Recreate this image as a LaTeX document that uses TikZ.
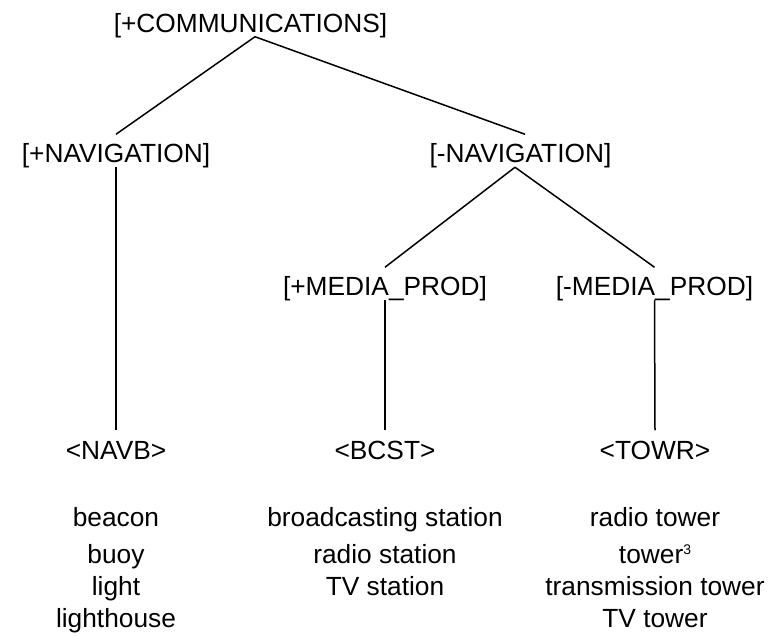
\documentclass[tikz,border=0pt]{standalone}
\usepackage{fontspec}
\setmainfont{Liberation Sans}
\usepackage{tikz}
\usetikzlibrary{positioning}

\begin{document}
\begin{tikzpicture}[x=1pt,y=-1pt,line width=1.5pt,
    feat/.style={inner sep=0pt,text height=28pt,text depth=3.5pt,anchor=base,
        font=\fontsize{26.3}{32}\selectfont},
    words/.style={inner sep=0pt,anchor=north,align=center,
        font=\fontsize{26.3}{32}\selectfont}]
    \useasboundingbox (0,0) rectangle (771,636);
    \path
        (250.5,32.5) node[feat] (comm){[+COMMUNICATIONS]}
        (116,163)    node[feat] (navp){[+NAVIGATION]}
        (520.5,163)  node[feat] (navm){[-NAVIGATION]}
        (385,296)    node[feat] (medp){[+MEDIA\_PROD]}
        (654.5,296)  node[feat] (medm){[-MEDIA\_PROD]}
        (116,459)    node[feat] (navb){<NAVB>}
        (385,459)    node[feat] (bcst){<BCST>}
        (655,459)    node[feat] (towr){<TOWR>}
        ;
    \path
        (116,507) node[words] (navbw){beacon\\[5pt]buoy\\light\\lighthouse}
        (385,507) node[words] (bcstw){broadcasting station\\[5pt]radio station\\TV station}
        (655,507) node[words] (towrw){radio tower\\[5pt]tower\raisebox{9pt}{\fontsize{14}{14}\selectfont 3}\\transmission tower\\TV tower}
        ;
    \draw ([xshift=4.5pt]comm.south)--(navp.north);
    \draw ([xshift=4.5pt]comm.south)--([xshift=4.5pt]navm.north);
    \draw ([xshift=-5.5pt]navm.south)--(medp.north);
    \draw ([xshift=-5.5pt]navm.south)--(medm.north);
    \draw (navp.south)--(navb.north);
    \draw (medp.south)--(bcst.north);
    \draw (medm.south)--(towr.north);
\end{tikzpicture}
\end{document}
